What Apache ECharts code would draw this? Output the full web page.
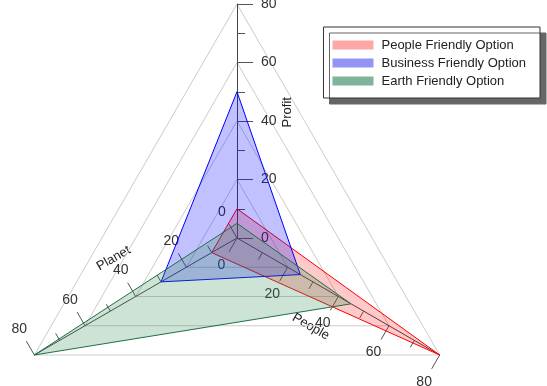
<!DOCTYPE html>
<html><head><meta charset="utf-8">
<script src="https://cdn.jsdelivr.net/npm/echarts@6/dist/echarts.min.js"></script>
<style>html,body{margin:0;padding:0;background:#fff}#c{width:547px;height:386px}</style>
</head><body><div id="c"></div>
<script>
// Indicator order follows the radar's counter-clockwise layout: top, lower-left, lower-right
const indicatorNames = ['Profit', 'Planet', 'People'];
const axisMax = 80;
const seriesNames = ['People Friendly Option', 'Business Friendly Option', 'Earth Friendly Option'];
// values in order [Profit, Planet, People]
const peopleFriendly = [10, 10, 80];
const businessFriendly = [50, 30, 25];
const earthFriendly = [5, 80, 45];

const CX = 237, CY = 238, R = 234;
const FONT = 'Liberation Sans, Arial, sans-serif';

function namePos(angleDeg, value, perp) {
  const a = angleDeg * Math.PI / 180;
  const dx = Math.cos(a), dy = -Math.sin(a);
  const px = -dy, py = dx; // clockwise perpendicular in screen coords
  const d = value / axisMax * R;
  return [CX + dx * d + px * perp, CY + dy * d + py * perp];
}
const nameDefs = [
  { text: 'Profit', angle: 90, value: 43, perp: 50, rot: 90 },
  { text: 'Planet', angle: 210, value: 40, perp: 44, rot: 30 },
  { text: 'People', angle: 330, value: 37, perp: 40, rot: -30 }
];
// label placement per indicator (labels sit on the clockwise side of each axis)
const labelStyles = [
  { margin: -24, align: 'left', verticalAlign: 'middle' },
  { margin: -30, align: 'center', verticalAlign: 'middle' },
  { margin: -31, align: 'center', verticalAlign: 'middle' }
];

const chart = echarts.init(document.getElementById('c'), null, { renderer: 'canvas' });
chart.setOption({
  animation: false,
  backgroundColor: '#fff',
  textStyle: { fontFamily: FONT },
  legend: {
    orient: 'vertical',
    right: 7, top: 27,
    padding: [11, 14, 10, 9],
    itemWidth: 41, itemHeight: 9, itemGap: 4,
    icon: 'rect',
    backgroundColor: '#fff',
    borderColor: '#333', borderWidth: 1,
    shadowColor: '#666', shadowBlur: 0, shadowOffsetX: 6, shadowOffsetY: 6,
    textStyle: { fontSize: 13, lineHeight: 14, color: '#222', fontFamily: FONT, padding: [0, 0, 0, 3] },
    data: [
      { name: seriesNames[0], itemStyle: { color: 'rgba(255,80,80,0.5)', borderWidth: 0 } },
      { name: seriesNames[1], itemStyle: { color: 'rgba(60,60,240,0.55)', borderWidth: 0 } },
      { name: seriesNames[2], itemStyle: { color: 'rgba(40,130,85,0.6)', borderWidth: 0 } }
    ]
  },
  radar: {
    center: [CX, CY],
    radius: R,
    startAngle: 90,
    shape: 'polygon',
    splitNumber: 4,
    indicator: indicatorNames.map((n, i) => ({
      name: n, min: 0, max: axisMax,
      axisLabel: labelStyles[i],
      minorTick: { show: true, splitNumber: 2, length: -8, lineStyle: { color: '#555', width: 1 } }
    })),
    axisName: { show: false },
    axisLine: { show: true, lineStyle: { color: '#444', width: 1 } },
    axisTick: { show: true, length: -16, lineStyle: { color: '#555', width: 1 } },
    axisLabel: { show: true, fontSize: 14, color: '#333', fontFamily: FONT },
    splitLine: { show: true, lineStyle: { color: '#cccccc', width: 1 } },
    splitArea: { show: false }
  },
  series: [{
    type: 'radar',
    symbol: 'none',
    data: [
      { name: seriesNames[0], value: peopleFriendly,
        lineStyle: { color: '#ff0000', width: 1 }, itemStyle: { color: 'rgba(255,80,80,0.5)' },
        areaStyle: { color: 'rgba(255,0,0,0.3)' } },
      { name: seriesNames[1], value: businessFriendly,
        lineStyle: { color: '#0000ff', width: 1 }, itemStyle: { color: 'rgba(60,60,240,0.55)' },
        areaStyle: { color: 'rgba(0,0,255,0.35)' } },
      { name: seriesNames[2], value: earthFriendly,
        lineStyle: { color: '#1f6b45', width: 1 }, itemStyle: { color: 'rgba(40,130,85,0.6)' },
        areaStyle: { color: 'rgba(46,139,87,0.35)' } }
    ]
  }],
  graphic: nameDefs.map(d => {
    const p = namePos(d.angle, d.value, d.perp);
    return {
      type: 'text', x: p[0], y: p[1], rotation: d.rot * Math.PI / 180,
      style: { text: d.text, fontSize: 13, fill: '#222', fontFamily: FONT, align: 'center', verticalAlign: 'middle' }
    };
  })
});
</script>
</body></html>
